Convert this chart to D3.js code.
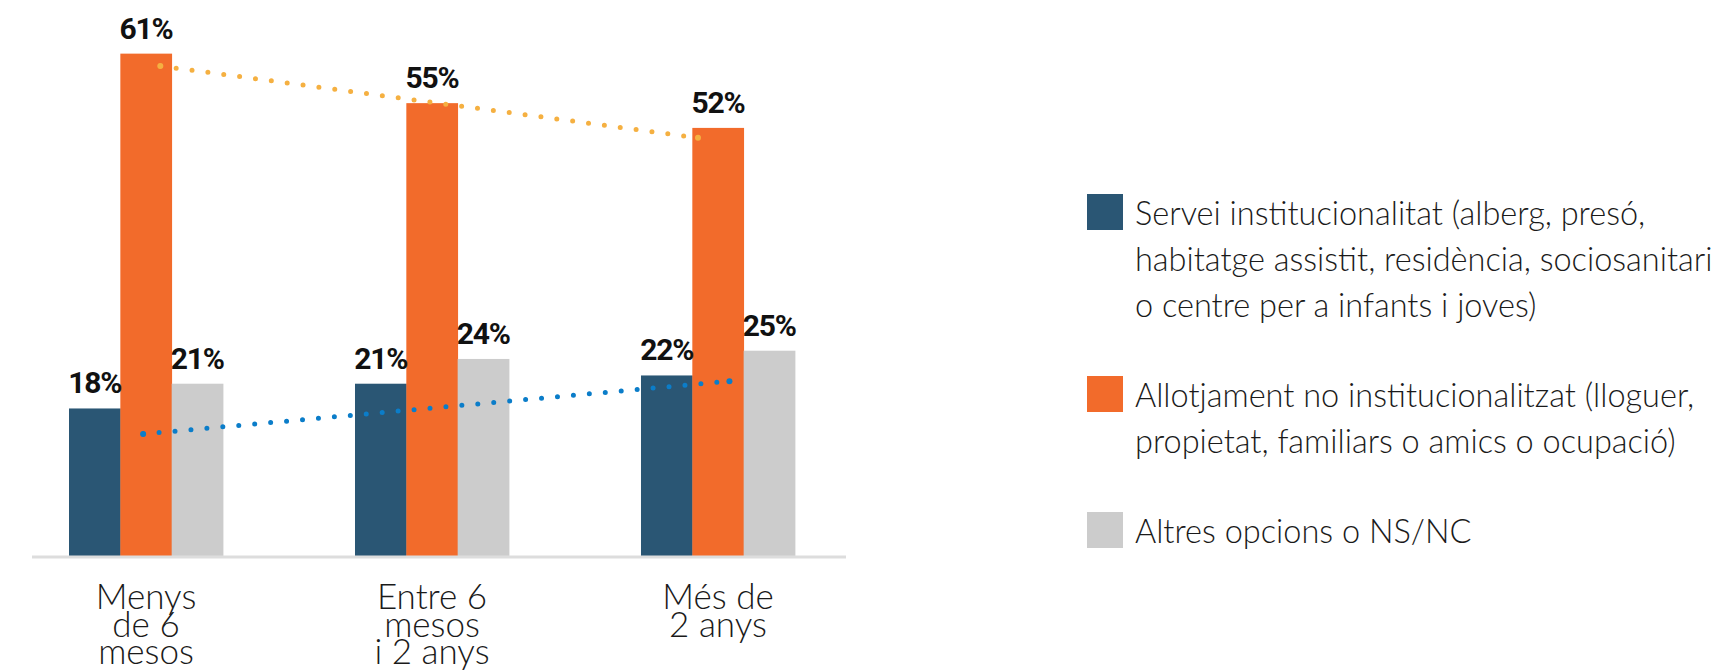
<!DOCTYPE html>
<html>
<head>
<meta charset="utf-8">
<script src="https://cdn.jsdelivr.net/npm/d3@7"></script>
<style>
  html, body { margin: 0; padding: 0; background: #fff; }
  svg { display: block; }
</style>
</head>
<body>
<svg id="chart" width="1725" height="672"></svg>
<script>
// ---- Data -------------------------------------------------------------
const categories = ["Menys de 6 mesos", "Entre 6 mesos i 2 anys", "Més de 2 anys"];
const categoryLines = [
  ["Menys", "de 6", "mesos"],
  ["Entre 6", "mesos", "i 2 anys"],
  ["Més de", "2 anys"]
];

const seriesKeys = ["institucional", "noInstitucional", "altres"];
const legendLines = [
  ["Servei institucionalitat (alberg, presó,",
   "habitatge assistit, residència, sociosanitari",
   "o centre per a infants i joves)"],
  ["Allotjament no institucionalitzat (lloguer,",
   "propietat, familiars o amics o ocupació)"],
  ["Altres opcions o NS/NC"]
];

// Percentages per category
const institucional   = [18, 21, 22];
const noInstitucional = [61, 55, 52];
const altres          = [21, 24, 25];

// Dotted trend lines: [position along categories (0 = first), value %]
const trendNoInstitucional = [[0.05, 59.5], [1.93, 50.8]];
const trendInstitucional   = [[-0.01, 14.9], [2.04, 21.3]];

// ---- Styling ----------------------------------------------------------
const colors = {
  institucional: "#2a5674",
  noInstitucional: "#f26b2b",
  altres: "#cccccc"
};
const trendColors = { noInstitucional: "#f5b041", institucional: "#0b7dc9" };
const lightFont = "Lato, Roboto, 'Open Sans', sans-serif";
const boldFont = "Roboto, 'Open Sans', sans-serif";

// ---- Layout & scales --------------------------------------------------
const svg = d3.select("#chart");
const baseY = 557;

const x0 = d3.scaleBand()
  .domain(categories)
  .range([3, 861])
  .paddingInner(0.4615)
  .paddingOuter(0.2308);

const x1 = d3.scaleBand()
  .domain(seriesKeys)
  .range([0, x0.bandwidth()]);

const y = d3.scaleLinear()
  .domain([0, 67.5])
  .range([baseY, 0]);

const xTrend = d3.scaleLinear()
  .domain([0, categories.length - 1])
  .range([x0(categories[0]) + x0.bandwidth() / 2,
          x0(categories[categories.length - 1]) + x0.bandwidth() / 2]);

const seriesValues = {
  institucional: institucional,
  noInstitucional: noInstitucional,
  altres: altres
};

const rows = categories.map((c, i) => ({
  category: c,
  values: seriesKeys.map(k => ({ key: k, value: seriesValues[k][i] }))
}));

// ---- Bars -------------------------------------------------------------
const groups = svg.append("g").attr("class", "bars")
  .selectAll("g")
  .data(rows)
  .join("g")
  .attr("transform", d => `translate(${x0(d.category)},0)`);

groups.selectAll("rect")
  .data(d => d.values)
  .join("rect")
  .attr("x", d => x1(d.key))
  .attr("width", x1.bandwidth() + 0.4)
  .attr("y", d => y(d.value))
  .attr("height", d => y(0) - y(d.value) + 1)
  .attr("fill", d => colors[d.key]);

// ---- Baseline ---------------------------------------------------------
svg.append("line")
  .attr("x1", 32).attr("x2", 846)
  .attr("y1", y(0)).attr("y2", y(0))
  .attr("stroke", "#dddddd")
  .attr("stroke-width", 3);

// ---- Category axis ----------------------------------------------------
const xAxis = svg.append("g")
  .attr("transform", `translate(0,${baseY})`)
  .call(d3.axisBottom(x0).tickSize(0).tickSizeOuter(0));

xAxis.select(".domain").remove();
xAxis.selectAll(".tick text")
  .attr("y", 0).attr("dy", null)
  .style("font-family", lightFont)
  .style("font-weight", 300)
  .style("font-size", "35px")
  .attr("fill", "#1a1a1a")
  .text(null)
  .each(function(d) {
    const lines = categoryLines[categories.indexOf(d)];
    d3.select(this).selectAll("tspan")
      .data(lines)
      .join("tspan")
      .attr("x", 0)
      .attr("y", (l, i) => 52 + i * 27.5)
      .text(l => l);
  });

// ---- Trend lines ------------------------------------------------------
const trendLine = d3.line()
  .x(d => xTrend(d[0]))
  .y(d => y(d[1]));

function drawTrend(data, color) {
  const g = svg.append("g").attr("class", "trend");
  g.append("path")
    .attr("d", trendLine(data))
    .attr("fill", "none")
    .attr("stroke", color)
    .attr("stroke-width", 5)
    .attr("stroke-linecap", "round")
    .attr("stroke-dasharray", "0 16");
  g.selectAll("circle")
    .data([data[0], data[data.length - 1]])
    .join("circle")
    .attr("cx", d => xTrend(d[0]))
    .attr("cy", d => y(d[1]))
    .attr("r", 3)
    .attr("fill", color);
}
drawTrend(trendNoInstitucional, trendColors.noInstitucional);
drawTrend(trendInstitucional, trendColors.institucional);

// ---- Value labels -----------------------------------------------------
groups.selectAll("text.value")
  .data(d => d.values)
  .join("text")
  .attr("class", "value")
  .attr("x", d => x1(d.key) + x1.bandwidth() / 2)
  .attr("y", d => y(d.value) - 15)
  .attr("text-anchor", "middle")
  .style("font-family", boldFont)
  .style("font-weight", 700)
  .style("font-size", "30px")
  .style("letter-spacing", "-1.2px")
  .attr("fill", "#111111")
  .text(d => d.value + "%");

// ---- Legend -----------------------------------------------------------
const legendX = 1087, legendTop = 194, swatch = 36, lineH = 46, entryGap = 44;
let entryTop = legendTop;
const legendData = seriesKeys.map((k, i) => {
  const entry = { key: k, lines: legendLines[i], top: entryTop };
  entryTop += legendLines[i].length * lineH + entryGap;
  return entry;
});

const legend = svg.append("g").attr("class", "legend")
  .selectAll("g")
  .data(legendData)
  .join("g")
  .attr("transform", d => `translate(${legendX},${d.top})`);

legend.append("rect")
  .attr("width", swatch).attr("height", swatch)
  .attr("fill", d => colors[d.key]);

legend.append("text")
  .style("font-family", lightFont)
  .style("font-weight", 300)
  .style("font-size", "32.5px")
  .attr("fill", "#1a1a1a")
  .selectAll("tspan")
  .data(d => d.lines)
  .join("tspan")
  .attr("x", 48)
  .attr("y", (l, i) => 31 + i * lineH)
  .text(l => l);
</script>
</body>
</html>
